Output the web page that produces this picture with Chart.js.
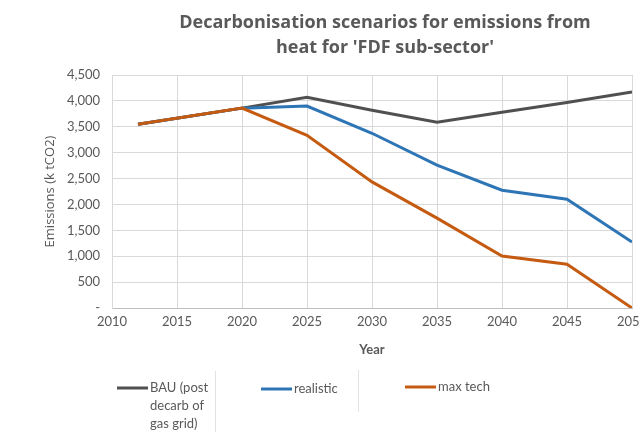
<!DOCTYPE html>
<html>
<head>
<meta charset="utf-8">
<script src="https://cdn.jsdelivr.net/npm/chart.js@4"></script>
<style>
  html, body { margin: 0; padding: 0; background: #fff; overflow: hidden; }
  #wrap { width: 660px; height: 432px; }
</style>
</head>
<body>
<div id="wrap"><canvas id="myChart" width="660" height="432"></canvas></div>
<script>
// data
var years = [2012, 2020, 2025, 2030, 2035, 2040, 2045, 2050];
var bau = [3550, 3860, 4070, 3820, 3590, 3780, 3970, 4170];
var realistic = [3550, 3860, 3900, 3375, 2760, 2275, 2100, 1275];
var maxTech = [3550, 3860, 3335, 2435, 1735, 1005, 845, 0];
var seriesNames = ['BAU (post decarb of gas grid)', 'realistic', 'max tech'];
var titleLines = ['Decarbonisation scenarios for emissions from', "heat for 'FDF sub-sector'"];

var grey = '#595959';
var colors = ['#505050', '#2e75b6', '#c55a11'];

function points(vals) {
    return years.map(function (y, i) { return { x: y, y: vals[i] }; });
}

// title drawn by hand so it can sit off-centre like the original
var titlePlugin = {
    id: 'customTitle',
    afterDraw: function (chart) {
        var ctx = chart.ctx;
        ctx.save();
        ctx.fillStyle = grey;
        ctx.font = 'bold 18px "Open Sans"';
        ctx.textAlign = 'center';
        ctx.textBaseline = 'middle';
        ctx.fillText(titleLines[0], 385, 23);
        ctx.fillText(titleLines[1], 385, 48);
        ctx.restore();
    }
};

// legend laid out like the table under the excel chart
var legendPlugin = {
    id: 'customLegend',
    afterDraw: function (chart) {
        var ctx = chart.ctx;
        var xs = [117, 261, 405];
        var ys = [388, 389, 387];
        ctx.save();
        ctx.strokeStyle = '#e2e2e2';
        ctx.lineWidth = 1;
        ctx.beginPath();
        ctx.moveTo(215.5, 371); ctx.lineTo(215.5, 432);
        ctx.moveTo(358.5, 370); ctx.lineTo(358.5, 412);
        ctx.stroke();
        ctx.font = '13px Lato';
        ctx.textBaseline = 'middle';
        ctx.fillStyle = grey;
        chart.data.datasets.forEach(function (ds, i) {
            ctx.strokeStyle = ds.borderColor;
            ctx.lineWidth = 3;
            ctx.beginPath();
            ctx.moveTo(xs[i], ys[i]);
            ctx.lineTo(xs[i] + 31, ys[i]);
            ctx.stroke();
            // wrap words into narrow lines
            var words = ds.label.split(' ');
            var lines = [], cur = '';
            words.forEach(function (w) {
                var t = cur ? cur + ' ' + w : w;
                if (ctx.measureText(t).width > 64 && cur) { lines.push(cur); cur = w; }
                else cur = t;
            });
            lines.push(cur);
            lines.forEach(function (l, k) {
                ctx.fillText(l, xs[i] + 33, ys[i] + k * 18);
            });
        });
        ctx.restore();
    }
};

var grafico = new Chart(document.getElementById('myChart'), {
    type: 'line',
    data: {
        datasets: [
            { label: seriesNames[0], data: points(bau), borderColor: colors[0], order: 3 },
            { label: seriesNames[1], data: points(realistic), borderColor: colors[1], order: 2 },
            { label: seriesNames[2], data: points(maxTech), borderColor: colors[2], order: 1 }
        ]
    },
    options: {
        responsive: false,
        animation: false,
        layout: { padding: { top: 75, left: 40, right: 28, bottom: 70 } },
        elements: {
            line: { borderWidth: 3, tension: 0, fill: false },
            point: { radius: 0 }
        },
        plugins: {
            legend: { display: false },
            title: { display: false },
            tooltip: { enabled: false }
        },
        scales: {
            x: {
                type: 'linear',
                min: 2010,
                max: 2050,
                ticks: {
                    stepSize: 5,
                    color: grey,
                    font: { family: 'Lato', size: 13 },
                    padding: 6,
                    maxRotation: 0,
                    callback: function (v) { return String(v); }
                },
                grid: { color: '#d9d9d9', drawTicks: false },
                border: { color: '#bfbfbf' },
                title: {
                    display: true,
                    text: 'Year',
                    color: grey,
                    font: { family: 'Lato', size: 13, weight: 'bold' },
                    padding: { top: 0, bottom: 4 }
                },
                afterFit: function (s) { s.height = 54; }
            },
            y: {
                min: 0,
                max: 4500,
                ticks: {
                    stepSize: 500,
                    color: grey,
                    font: { family: 'Lato', size: 13 },
                    padding: 12,
                    callback: function (v) { return v === 0 ? '-' : v.toLocaleString('en-US'); }
                },
                grid: { color: '#d9d9d9', drawTicks: false },
                border: { color: '#d9d9d9' },
                title: {
                    display: true,
                    text: 'Emissions (k tCO2)',
                    color: grey,
                    font: { family: '"Open Sans"', size: 13 },
                    padding: { top: 2, bottom: 0 }
                },
                afterFit: function (s) { s.width = 72; }
            }
        }
    },
    plugins: [titlePlugin, legendPlugin]
});
</script>
</body>
</html>
